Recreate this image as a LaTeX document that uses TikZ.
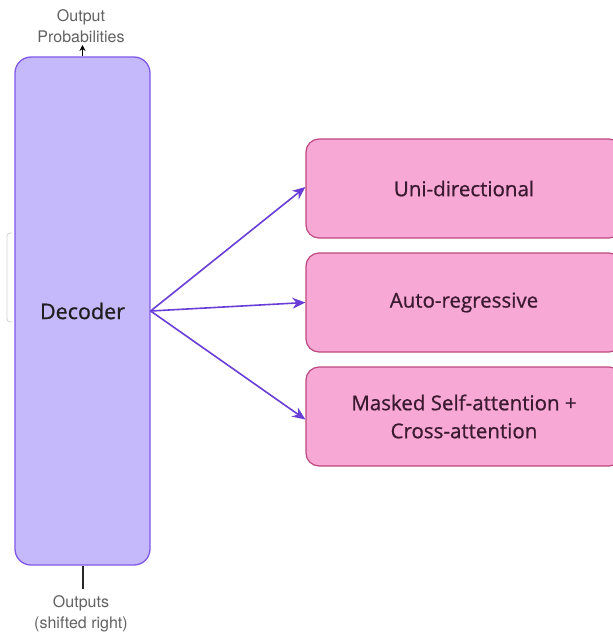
\documentclass[tikz,border=0pt]{standalone}
\usepackage{fontspec}
\setmainfont{Open Sans}
\newfontfamily\medfont{Open Sans}[FakeBold=0.7]
\newfontfamily\helv{TeX Gyre Heros}
\usetikzlibrary{arrows.meta}

\definecolor{decfill}{RGB}{197,184,251}
\definecolor{decline}{RGB}{128,88,232}
\definecolor{pinkfill}{RGB}{248,168,212}
\definecolor{pinkline}{RGB}{190,72,128}
\definecolor{pinktext}{RGB}{58,26,48}
\definecolor{arrowcol}{RGB}{104,62,214}

\tikzset{
	decbox/.style={draw=decline, fill=decfill, line width=1.3pt, rounded corners=16pt,
		minimum width=135pt, minimum height=508pt, font=\medfont\fontsize{21.5}{25}\selectfont, text=black!88},
	propbox/.style={draw=pinkline, fill=pinkfill, line width=1.2pt, rounded corners=13pt,
		minimum width=316pt, minimum height=99pt, align=center,
		font=\medfont\fontsize{20.5}{28}\selectfont, text=pinktext},
	iolabel/.style={align=center, text=black!62, font=\helv\fontsize{16}{21}\selectfont},
	branch/.style={draw=arrowcol, line width=1.6pt, -{Stealth[length=13pt,width=11pt]}}
}

\begin{document}
\begin{tikzpicture}[x=1pt, y=-1pt]
			%%%%% START %%%%%
			\useasboundingbox (0, 0) rectangle (613, 633);
			
			% faint bracket on the far left
			\draw[black!18, line width=0.8pt, rounded corners=3pt] (12, 233) -- (7, 233) -- (7, 322) -- (12, 322);
			
			\node[decbox] (dec) at (82.5, 311) {Decoder};
			
			\node[iolabel] (outprob) at (81, 26) {Output\\Probabilities};
			\node[iolabel] (outin) at (81, 614) {Outputs\\(shifted right)};
			\coordinate (topend) at (82.5, 45);
			\coordinate (botend) at (82.5, 589);
			
			\draw[black, line width=1.6pt, -{Stealth[length=6pt,width=6pt]}] (dec.north) -- (topend);
			\draw[black!85, line width=2pt] (botend) -- (dec.south);
			
			\node[propbox] (uni) at (464, 188.5) {Uni-directional};
			\node[propbox] (auto) at (464, 302.5) {Auto-regressive};
			\node[propbox] (masked) at (464, 416.5) {Masked Self-attention +\\Cross-attention};
			
			\draw[branch] (dec.east) -- ([yshift=1.5pt]uni.west);
			\draw[branch] (dec.east) -- (auto.west);
			\draw[branch] (dec.east) -- ([yshift=-3pt]masked.west);
			
			%%%%% END %%%%%
\end{tikzpicture}
\end{document}
